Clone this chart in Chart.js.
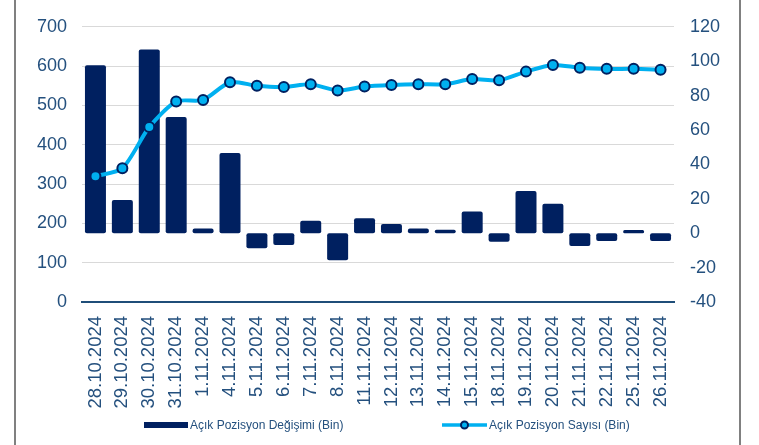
<!DOCTYPE html>
<html lang="tr">
<head>
    <meta charset="UTF-8">
    <title>Açık Pozisyon</title>
    <script src="https://cdn.jsdelivr.net/npm/chart.js"></script>
    <style>
        body { margin: 0; background: #ffffff; }
        #wrap { width: 759px; height: 445px; }
    </style>
</head>
<body>
    <div id="wrap">
        <canvas id="myChart" width="759" height="445"></canvas>
    </div>

    <script type="text/javascript">
        // 데이터 (picture values)
        const labels = ['28.10.2024', '29.10.2024', '30.10.2024', '31.10.2024', '1.11.2024', '4.11.2024',
            '5.11.2024', '6.11.2024', '7.11.2024', '8.11.2024', '11.11.2024', '12.11.2024', '13.11.2024',
            '14.11.2024', '15.11.2024', '18.11.2024', '19.11.2024', '20.11.2024', '21.11.2024',
            '22.11.2024', '25.11.2024', '26.11.2024'];
        const degisim = [97.6, 19.3, 106.8, 67.6, 2.8, 46.6, -8.8, -6.8, 7.2, -15.7, 8.7, 5.3, 2.8,
            2.0, 12.6, -5.0, 24.6, 17.1, -7.5, -4.5, 1.8, -4.5];
        const sayi = [320, 340, 445, 510, 514, 559, 550, 547, 554, 538, 548, 552, 554,
            554, 567, 564, 586, 603, 596, 593, 593, 591];
        const leftTicks = [0, 100, 200, 300, 400, 500, 600, 700];
        const rightTicks = [-40, -20, 0, 20, 40, 60, 80, 100, 120];

        const navy = '#002060';
        const cyan = '#00b0f0';
        const textColor = '#24507e';
        const font = { family: '"Liberation Sans", Arial, sans-serif', size: 18 };

        // 테두리 + 범례 직접 그리기
        const framePlugin = {
            id: 'frame',
            beforeDraw(chart) {
                const ctx = chart.ctx;
                ctx.save();
                ctx.fillStyle = '#ffffff';
                ctx.fillRect(0, 0, chart.width, chart.height);
                ctx.fillStyle = '#808080';
                ctx.fillRect(14, 0, 2, chart.height);
                ctx.fillRect(739, 0, 2, chart.height);
                ctx.restore();
            },
            afterDraw(chart) {
                const ctx = chart.ctx;
                const ds = chart.data.datasets;
                const y = 425;
                ctx.save();
                ctx.font = '12px "Liberation Sans", Arial, sans-serif';
                ctx.textBaseline = 'middle';
                // bar item
                ctx.fillStyle = navy;
                ctx.fillRect(144, y - 3, 44, 6);
                ctx.fillStyle = textColor;
                ctx.fillText(ds[1].label, 190, y + 1);
                // line item
                ctx.strokeStyle = cyan;
                ctx.lineWidth = 3.5;
                ctx.beginPath();
                ctx.moveTo(442, y);
                ctx.lineTo(487, y);
                ctx.stroke();
                ctx.beginPath();
                ctx.arc(464.5, y, 3.5, 0, Math.PI * 2);
                ctx.fillStyle = cyan;
                ctx.fill();
                ctx.lineWidth = 2;
                ctx.strokeStyle = navy;
                ctx.stroke();
                ctx.fillStyle = textColor;
                ctx.fillText(ds[0].label, 489, y + 1);
                ctx.restore();
            }
        };

        const ctx = document.querySelector('#myChart');

        new Chart(ctx, {
            type: 'bar',
            data: {
                labels: labels,
                datasets: [
                    {
                        type: 'line',
                        label: 'Açık Pozisyon Sayısı (Bin)',
                        data: sayi,
                        yAxisID: 'y',
                        order: 0,
                        borderColor: cyan,
                        borderWidth: 4,
                        tension: 0.25,
                        pointRadius: 5,
                        pointBorderWidth: 2,
                        pointBackgroundColor: cyan,
                        pointBorderColor: navy
                    },
                    {
                        type: 'bar',
                        label: 'Açık Pozisyon Değişimi (Bin)',
                        data: degisim,
                        yAxisID: 'y1',
                        order: 1,
                        backgroundColor: navy,
                        borderRadius: 2,
                        borderSkipped: false,
                        categoryPercentage: 1,
                        barPercentage: 0.78
                    }
                ]
            },
            // 차트의 옵션
            options: {
                responsive: false,
                animation: false,
                layout: { padding: { top: 23, left: 0, right: 0, bottom: 0 } },
                plugins: {
                    legend: { display: false },
                    tooltip: { enabled: false }
                },
                scales: {
                    x: {
                        grid: { display: false },
                        border: { display: true, color: '#1f4e79', width: 2 },
                        ticks: {
                            color: textColor,
                            font: { family: font.family, size: 18.5 },
                            autoSkip: false,
                            minRotation: 90,
                            maxRotation: 90,
                            padding: 6
                        },
                        afterFit(scale) { scale.height = 143; }
                    },
                    y: {
                        position: 'left',
                        min: leftTicks[0],
                        max: leftTicks[leftTicks.length - 1],
                        afterBuildTicks(scale) { scale.ticks = leftTicks.map(v => ({ value: v })); },
                        grid: { color: '#d9d9d9', lineWidth: 1, drawTicks: false },
                        border: { display: false },
                        ticks: { color: textColor, font: font, padding: 15 },
                        afterFit(scale) { scale.width = 82; }
                    },
                    y1: {
                        position: 'right',
                        min: rightTicks[0],
                        max: rightTicks[rightTicks.length - 1],
                        afterBuildTicks(scale) { scale.ticks = rightTicks.map(v => ({ value: v })); },
                        grid: { display: false, drawTicks: false },
                        border: { display: false },
                        ticks: { color: textColor, font: font, padding: 16 },
                        afterFit(scale) { scale.width = 85; }
                    }
                }
            },
            plugins: [framePlugin]
        });
    </script>
</body>
</html>
